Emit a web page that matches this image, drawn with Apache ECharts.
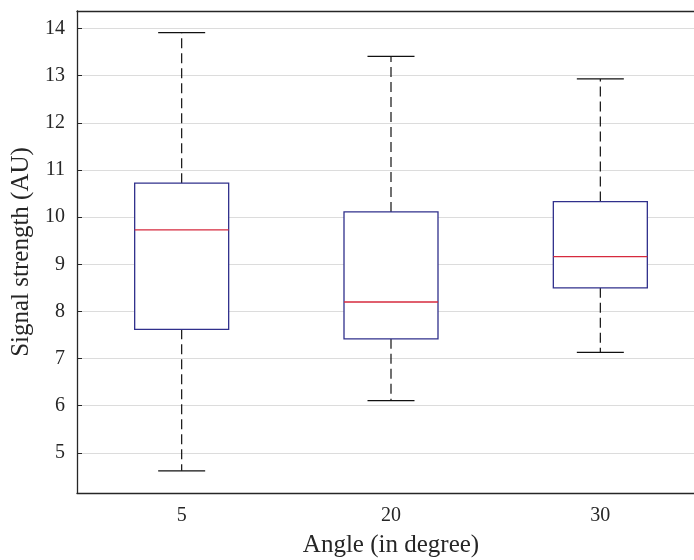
<!DOCTYPE html>
<html>
<head>
<meta charset="utf-8">
<script src="https://cdn.jsdelivr.net/npm/echarts@6/dist/echarts.min.js"></script>
<style>
  html, body { margin: 0; padding: 0; background: #fff; }
  #main { width: 694px; height: 560px; }
</style>
</head>
<body>
<div id="main"></div>
<script>
var angles = ['5', '20', '30']
var lowWhisker = [4.62, 6.11, 7.13]
var q1 = [7.62, 7.42, 8.50]
var medians = [9.73, 8.20, 9.16]
var q3 = [10.72, 10.11, 10.33]
var highWhisker = [13.91, 13.41, 12.93]

var boxData = []
for (var i = 0; i < angles.length; i++) {
  boxData.push([i, lowWhisker[i], q1[i], medians[i], q3[i], highWhisker[i]])
}

var font = 'Liberation Serif, Times New Roman, serif'
var boxColor = '#30308c'
var medianColor = '#d62a3e'

// box, median and dashed whiskers drawn by hand like MATLAB boxplot
function renderBox(params, api) {
  var x = api.value(0)
  var lo = api.coord([x, api.value(1)])
  var b1 = api.coord([x, api.value(2)])
  var md = api.coord([x, api.value(3)])
  var b3 = api.coord([x, api.value(4)])
  var hi = api.coord([x, api.value(5)])
  var cx = lo[0]
  var halfBox = 47
  var halfCap = 23.5
  var dash = { stroke: '#111', lineWidth: 1.2, lineDash: [10, 5], fill: null }
  var solid = { stroke: '#111', lineWidth: 1.2, fill: null }
  return {
    type: 'group',
    children: [
      { type: 'line', shape: { x1: cx, y1: b3[1], x2: cx, y2: hi[1] }, style: dash },
      { type: 'line', shape: { x1: cx, y1: b1[1], x2: cx, y2: lo[1] }, style: dash },
      { type: 'line', shape: { x1: cx - halfCap, y1: hi[1], x2: cx + halfCap, y2: hi[1] }, style: solid },
      { type: 'line', shape: { x1: cx - halfCap, y1: lo[1], x2: cx + halfCap, y2: lo[1] }, style: solid },
      {
        type: 'rect',
        shape: { x: cx - halfBox, y: b3[1], width: halfBox * 2, height: b1[1] - b3[1] },
        style: { stroke: boxColor, lineWidth: 1.3, fill: '#fff' }
      },
      {
        type: 'line',
        shape: { x1: cx - halfBox, y1: md[1], x2: cx + halfBox, y2: md[1] },
        style: { stroke: medianColor, lineWidth: 1.3 }
      }
    ]
  }
}

var chart = echarts.init(document.getElementById('main'))
var option = {
  animation: false,
  backgroundColor: '#fff',
  // the right edge of the axes box is cut off in the original
  grid: {
    left: 77,
    top: 11,
    bottom: 67,
    width: 628,
    outerBoundsMode: 'none',
    containLabel: false
  },
  xAxis: [{
    type: 'category',
    data: angles,
    position: 'bottom',
    name: 'Angle (in degree)',
    nameLocation: 'middle',
    nameGap: 40,
    nameTextStyle: { fontFamily: font, fontSize: 25, color: '#262626' },
    axisLine: { lineStyle: { color: '#262626', width: 1.3 } },
    axisTick: { inside: true, alignWithLabel: true, length: 5, lineStyle: { color: '#262626' } },
    axisLabel: { fontFamily: font, fontSize: 20, color: '#262626', margin: 13 },
    splitLine: { show: false }
  }, {
    type: 'category',
    data: angles,
    position: 'top',
    axisLine: { lineStyle: { color: '#262626', width: 1.3 } },
    axisTick: { inside: true, alignWithLabel: true, length: 5, lineStyle: { color: '#262626' } },
    axisLabel: { show: false },
    splitLine: { show: false }
  }],
  yAxis: {
    type: 'value',
    min: 4.15,
    max: 14.37,
    splitNumber: 10,
    name: 'Signal strength (AU)',
    nameLocation: 'middle',
    nameGap: 39,
    nameTextStyle: { fontFamily: font, fontSize: 25, color: '#262626' },
    axisLine: { show: true, lineStyle: { color: '#262626', width: 1.3 } },
    axisTick: { show: true, inside: true, length: 5, lineStyle: { color: '#262626' } },
    axisLabel: {
      fontFamily: font,
      fontSize: 20,
      color: '#262626',
      margin: 12,
      formatter: function(v) {
        return Math.abs(v - Math.round(v)) < 1e-6 ? String(Math.round(v)) : ''
      }
    },
    splitLine: { show: true, lineStyle: { color: '#dcdcdc', width: 1 } }
  },
  series: [{
    type: 'custom',
    renderItem: renderBox,
    encode: { x: 0, y: [1, 2, 3, 4, 5] },
    data: boxData
  }]
}
chart.setOption(option)
</script>
</body>
</html>
